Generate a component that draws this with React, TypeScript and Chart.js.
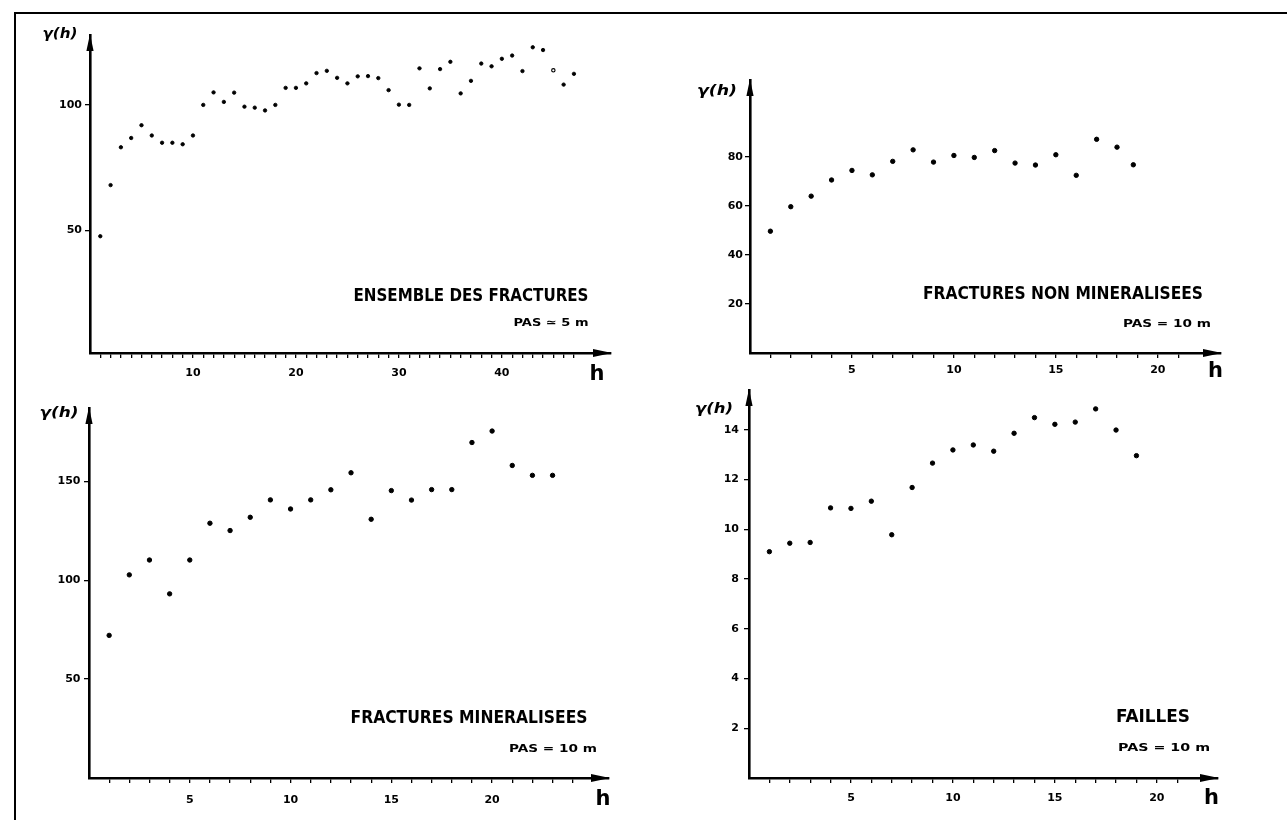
import React, { useEffect, useRef } from 'react';
import { Chart, registerables } from 'chart.js';

Chart.register(...registerables);

// ---------- DATA ----------
// Panel 1 : ENSEMBLE DES FRACTURES (PAS ≃ 5 m)
const ensembleLags = [1, 2, 3, 4, 5, 6, 7, 8, 9, 10, 11, 12, 13, 14, 15, 16, 17, 18, 19, 20, 21, 22, 23, 24, 25, 26, 27, 28, 29, 30, 31, 32, 33, 34, 35, 36, 37, 38, 39, 40, 41, 42, 43, 44, 45, 46, 47];
const ensembleGamma = [47.6, 68, 83.1, 86.8, 91.9, 87.8, 84.9, 84.9, 84.3, 87.8, 100, 105, 101.2, 104.9, 99.3, 98.9, 97.8, 100, 106.8, 106.8, 108.6, 112.7, 113.6, 110.8, 108.6, 111.4, 111.5, 110.7, 105.9, 100.1, 100, 114.6, 106.6, 114.3, 117.2, 104.6, 109.6, 116.5, 115.4, 118.4, 119.7, 113.5, 123, 121.9, 113.8, 108.1, 112.4];
const ensembleOpenLags = [45];
const ensembleYTicks = [50, 100];
const ensembleXLabels = [10, 20, 30, 40];

// Panel 2 : FRACTURES NON MINERALISEES (PAS = 10 m)
const nonMinLags = [1, 2, 3, 4, 5, 6, 7, 8, 9, 10, 11, 12, 13, 14, 15, 16, 17, 18, 18.8];
const nonMinGamma = [49.7, 59.7, 64.0, 70.6, 74.5, 72.7, 78.2, 82.9, 77.9, 80.6, 79.8, 82.6, 77.5, 76.7, 80.9, 72.5, 87.2, 84.0, 76.8];
const nonMinYTicks = [20, 40, 60, 80];
const nonMinXLabels = [5, 10, 15, 20];

// Panel 3 : FRACTURES MINERALISEES (PAS = 10 m)
const minLags = [1, 2, 3, 4, 5, 6, 7, 8, 9, 10, 11, 12, 13, 14, 15, 16, 17, 18, 19, 20, 21, 22, 23];
const minGamma = [72.1, 102.7, 110.2, 93.1, 110.2, 128.8, 125.1, 131.8, 140.6, 136.0, 140.6, 145.7, 154.3, 130.8, 145.3, 140.5, 145.8, 145.8, 169.6, 175.4, 158.0, 153.0, 153.0];
const minYTicks = [50, 100, 150];
const minXLabels = [5, 10, 15, 20];

// Panel 4 : FAILLES (PAS = 10 m)
const faillesLags = [1, 2, 3, 4, 5, 6, 7, 8, 9, 10, 11, 12, 13, 14, 15, 16, 17, 18, 19];
const faillesGamma = [9.10, 9.44, 9.47, 10.86, 10.84, 11.13, 9.78, 11.68, 12.66, 13.19, 13.39, 13.14, 13.86, 14.49, 14.22, 14.31, 14.84, 13.99, 12.96];
const faillesYTicks = [2, 4, 6, 8, 10, 12, 14];
const faillesXLabels = [5, 10, 15, 20];

const panelTitles = ['ENSEMBLE DES FRACTURES', 'FRACTURES NON MINERALISEES', 'FRACTURES MINERALISEES', 'FAILLES'];
const pasLabels = ['PAS \u2243 5 m', 'PAS = 10 m', 'PAS = 10 m', 'PAS = 10 m'];
const yAxisLabel = '\u03B3(h)';
const xAxisLabel = 'h';

// ---------- LAYOUT ----------
type Box = { l: number; t: number; r: number; b: number };
type PanelCfg = {
  lags: number[];
  gamma: number[];
  open: number[];
  yTicks: number[];
  xLabels: number[];
  xTickLast: number;
  xMax: number;
  yMin: number;
  yMax: number;
  canvas: { l: number; t: number; w: number; h: number };
  area: Box;
  radius: number;
  border: number;
  xPad: number;
  yPad: number;
};

const panels: PanelCfg[] = [
  {
    lags: ensembleLags, gamma: ensembleGamma, open: ensembleOpenLags,
    yTicks: ensembleYTicks, xLabels: ensembleXLabels, xTickLast: 47,
    xMax: 50.6, yMin: 1, yMax: 127.9,
    canvas: { l: 16, t: 16, w: 624, h: 380 },
    area: { l: 90, t: 35, r: 611, b: 353 },
    radius: 1.7, border: 0.9, xPad: 9, yPad: 3,
  },
  {
    lags: nonMinLags, gamma: nonMinGamma, open: [],
    yTicks: nonMinYTicks, xLabels: nonMinXLabels, xTickLast: 21,
    xMax: 23.1, yMin: 0, yMax: 111.4,
    canvas: { l: 660, t: 16, w: 620, h: 380 },
    area: { l: 750, t: 80, r: 1221, b: 353 },
    radius: 2.2, border: 1, xPad: 6, yPad: 2,
  },
  {
    lags: minLags, gamma: minGamma, open: [],
    yTicks: minYTicks, xLabels: minXLabels, xTickLast: 24,
    xMax: 25.8, yMin: 0, yMax: 187,
    canvas: { l: 16, t: 398, w: 624, h: 418 },
    area: { l: 89, t: 405, r: 609, b: 778 },
    radius: 2.2, border: 1, xPad: 11, yPad: 3.5,
  },
  {
    lags: faillesLags, gamma: faillesGamma, open: [],
    yTicks: faillesYTicks, xLabels: faillesXLabels, xTickLast: 21,
    xMax: 23.0, yMin: 0, yMax: 15.6,
    canvas: { l: 660, t: 376, w: 620, h: 440 },
    area: { l: 749, t: 390, r: 1218, b: 778 },
    radius: 2.2, border: 1, xPad: 8.5, yPad: 5,
  },
];

// annotation positions (centres) and fitted widths
const annotations = [
  { gamma: [60, 33, 35], title: [470.7, 295, 235], pas: [550.5, 322, 75], h: [597, 373] },
  { gamma: [717, 90, 40], title: [1062.5, 293, 280], pas: [1167, 323, 88], h: [1215.5, 370] },
  { gamma: [59, 412, 39], title: [468.6, 716.7, 237], pas: [553, 748, 88], h: [603, 798] },
  { gamma: [714, 407.5, 38], title: [1153, 715.5, 74], pas: [1164, 746.7, 92], h: [1211.5, 797] },
];

const arrowPlugin = {
  id: 'axisArrows',
  afterDraw(chart: any) {
    const { ctx, chartArea } = chart;
    const { left, top, right, bottom } = chartArea;
    ctx.save();
    ctx.fillStyle = '#000';
    ctx.beginPath();
    ctx.moveTo(left, top - 1);
    ctx.lineTo(left - 3.6, top + 16);
    ctx.lineTo(left + 3.6, top + 16);
    ctx.closePath();
    ctx.fill();
    ctx.beginPath();
    ctx.moveTo(right + 1, bottom);
    ctx.lineTo(right - 18, bottom - 4);
    ctx.lineTo(right - 18, bottom + 4);
    ctx.closePath();
    ctx.fill();
    ctx.restore();
  },
};

const tickFont = { family: '"DejaVu Sans", sans-serif', size: 11, weight: 'bold' as const };

function Panel({ cfg }: { cfg: PanelCfg }) {
  const ref = useRef<HTMLCanvasElement>(null);
  useEffect(() => {
    if (!ref.current) return;
    const padTop = cfg.area.t - cfg.canvas.t;
    const padRight = cfg.canvas.l + cfg.canvas.w - cfg.area.r;
    const yAxisW = cfg.area.l - cfg.canvas.l;
    const xAxisH = cfg.canvas.t + cfg.canvas.h - cfg.area.b;
    const xTicks: number[] = [];
    for (let v = 1; v <= cfg.xTickLast; v++) xTicks.push(v);
    const chart = new Chart(ref.current, {
      type: 'scatter',
      data: {
        datasets: [
          {
            data: cfg.lags.map((x, i) => ({ x, y: cfg.gamma[i] })),
            pointRadius: cfg.radius,
            pointBorderWidth: cfg.lags.map((x) => (cfg.open.includes(x) ? 1.1 : cfg.border)),
            pointBackgroundColor: cfg.lags.map((x) => (cfg.open.includes(x) ? '#fff' : '#000')),
            pointBorderColor: '#000',
            showLine: false,
          },
        ],
      },
      options: {
        animation: false,
        responsive: false,
        maintainAspectRatio: false,
        events: [],
        layout: { padding: { top: padTop, right: padRight, left: 0, bottom: 0 } },
        plugins: { legend: { display: false }, tooltip: { enabled: false } },
        scales: {
          x: {
            type: 'linear',
            position: 'bottom',
            min: 0,
            max: cfg.xMax,
            afterFit: (s: any) => { s.height = xAxisH; },
            afterBuildTicks: (s: any) => { s.ticks = xTicks.map((v) => ({ value: v })); },
            ticks: {
              autoSkip: false,
              maxRotation: 0,
              padding: cfg.xPad,
              color: '#000',
              font: tickFont,
              callback: (v: any) => (cfg.xLabels.includes(Number(v)) ? String(v) : ''),
            },
            grid: { drawOnChartArea: false, tickLength: 5, color: '#000', lineWidth: 1.3 },
            border: { display: true, color: '#000', width: 2.6 },
          },
          y: {
            type: 'linear',
            position: 'left',
            min: cfg.yMin,
            max: cfg.yMax,
            afterFit: (s: any) => { s.width = yAxisW; },
            afterBuildTicks: (s: any) => { s.ticks = cfg.yTicks.map((v) => ({ value: v })); },
            ticks: {
              autoSkip: false,
              padding: cfg.yPad,
              color: '#000',
              font: tickFont,
              callback: (v: any) => String(v),
            },
            grid: { drawOnChartArea: false, tickLength: 5, color: '#000', lineWidth: 1.3 },
            border: { display: true, color: '#000', width: 2.6 },
          },
        },
      },
      plugins: [arrowPlugin],
    } as any);
    return () => chart.destroy();
  }, [cfg]);
  return (
    <canvas
      ref={ref}
      width={cfg.canvas.w}
      height={cfg.canvas.h}
      style={{ position: 'absolute', left: cfg.canvas.l, top: cfg.canvas.t, width: cfg.canvas.w, height: cfg.canvas.h }}
    />
  );
}

let measureCtx: CanvasRenderingContext2D | null = null;
function measure(text: string, font: string): number {
  if (typeof document === 'undefined') return 0;
  if (!measureCtx) measureCtx = document.createElement('canvas').getContext('2d');
  if (!measureCtx) return 0;
  measureCtx.font = font;
  return measureCtx.measureText(text).width;
}

function Label({ text, x, y, font, width }: { text: string; x: number; y: number; font: string; width?: number }) {
  let sx = 1;
  if (width) {
    const m = measure(text, font);
    if (m > 0) sx = width / m;
  }
  return (
    <div
      style={{
        position: 'absolute',
        left: x,
        top: y,
        font,
        lineHeight: 1,
        whiteSpace: 'pre',
        color: '#000',
        transform: `translate(-50%, -50%) scaleX(${sx})`,
      }}
    >
      {text}
    </div>
  );
}

const titleFont = 'bold 18.5px "DejaVu Sans Condensed", "DejaVu Sans", sans-serif';
const pasFont = 'bold 11px "DejaVu Sans", sans-serif';
const gammaFont = 'italic bold 14px "DejaVu Sans", sans-serif';
const hFont = 'bold 21px "DejaVu Sans", sans-serif';

export default function App() {
  return (
    <div
      style={{
        position: 'absolute',
        left: 0,
        top: 0,
        width: 1287,
        height: 820,
        overflow: 'hidden',
        background: '#fff',
      }}
    >
      <div
        style={{
          position: 'absolute',
          left: 14,
          top: 12,
          width: 1290,
          height: 820,
          borderTop: '2.6px solid #000',
          borderLeft: '2.6px solid #000',
        }}
      />
      {panels.map((p, i) => (
        <Panel key={i} cfg={p} />
      ))}
      {annotations.map((a, i) => (
        <React.Fragment key={i}>
          <Label text={yAxisLabel} x={a.gamma[0]} y={a.gamma[1]} font={gammaFont} width={a.gamma[2]} />
          <Label text={panelTitles[i]} x={a.title[0]} y={a.title[1]} font={titleFont} width={a.title[2]} />
          <Label text={pasLabels[i]} x={a.pas[0]} y={a.pas[1]} font={pasFont} width={a.pas[2]} />
          <Label text={xAxisLabel} x={a.h[0]} y={a.h[1]} font={hFont} />
        </React.Fragment>
      ))}
    </div>
  );
}
